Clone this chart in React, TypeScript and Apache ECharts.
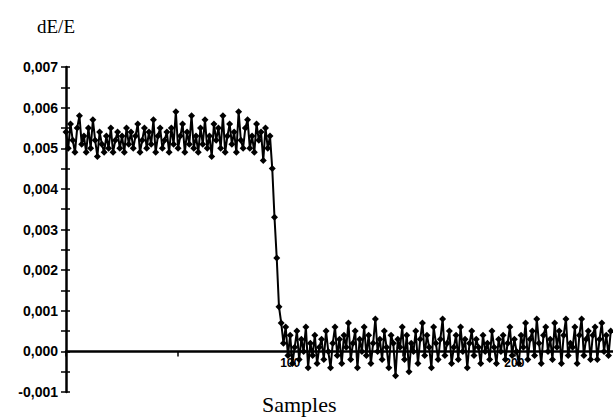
import React, { useEffect, useRef } from "react";
import * as echarts from "echarts";

const yLabelTicks = [-0.001, 0, 0.001, 0.002, 0.003, 0.004, 0.005, 0.006, 0.007];
const xLabelTicks = [100, 200];

// dE/E per sample (index = sample number)
const dEoverE = [
  0.0054, 0.0050, 0.0056, 0.0052, 0.0049, 0.0055, 0.0058, 0.0051, 0.0053, 0.0049,
  0.0055, 0.0050, 0.0057, 0.0052, 0.0048, 0.0054, 0.0051, 0.0049, 0.0053, 0.0050,
  0.0055, 0.0049, 0.0052, 0.0054, 0.0050, 0.0053, 0.0049, 0.0055, 0.0051, 0.0054,
  0.0050, 0.0053, 0.0056, 0.0049, 0.0052, 0.0055, 0.0050, 0.0054, 0.0051, 0.0057,
  0.0049, 0.0053, 0.0055, 0.0050, 0.0052, 0.0054, 0.0049, 0.0055, 0.0051, 0.0059,
  0.0050, 0.0053, 0.0056, 0.0049, 0.0054, 0.0051, 0.0058, 0.0050, 0.0053, 0.0049,
  0.0055, 0.0051, 0.0057, 0.0050, 0.0053, 0.0048, 0.0056, 0.0052, 0.0055, 0.0050,
  0.0058, 0.0049, 0.0053, 0.0056, 0.0051, 0.0054, 0.0049, 0.0059, 0.0052, 0.0050,
  0.0055, 0.0057, 0.0050, 0.0053, 0.0049, 0.0056, 0.0052, 0.0054, 0.0047, 0.0055,
  0.0050, 0.0053,
  0.0045, 0.0033, 0.0023, 0.0011,
  0.0007, 0.0002, 0.0006, -0.0001, 0.0004, -0.0003, 0.0001, 0.0005, -0.0002, 0.0003,
  0.0000, 0.0006, -0.0004, 0.0002, -0.0001, 0.0004, -0.0003, 0.0001, 0.0003, -0.0002,
  0.0005, 0.0000, -0.0004, 0.0002, 0.0006, -0.0001, 0.0003, -0.0003, 0.0004, 0.0001,
  0.0007, -0.0002, 0.0002, 0.0005, -0.0004, 0.0003, 0.0000, 0.0006, -0.0001, 0.0004,
  -0.0003, 0.0002, 0.0008, 0.0000, 0.0003, -0.0002, 0.0005, 0.0001, -0.0004, 0.0004,
  0.0002, -0.0006, 0.0003, 0.0001, 0.0006, -0.0002, 0.0004, -0.0005, 0.0002, 0.0000,
  0.0005, -0.0003, 0.0003, 0.0007, -0.0001, 0.0004, 0.0001, -0.0004, 0.0006, 0.0002,
  -0.0002, 0.0003, 0.0008, -0.0001, 0.0002, 0.0005, -0.0003, 0.0001, 0.0004, -0.0002,
  0.0006, 0.0000, 0.0003, -0.0004, 0.0002, 0.0005, -0.0001, 0.0003, 0.0001, -0.0003,
  0.0004, 0.0000, 0.0002, -0.0002, 0.0005, 0.0001, -0.0003, 0.0003, 0.0000, 0.0004,
  -0.0002, 0.0002, 0.0006, -0.0001, 0.0003, 0.0000, -0.0003, 0.0004, 0.0001, 0.0007,
  -0.0002, 0.0003, 0.0005, -0.0001, 0.0008, 0.0002, -0.0003, 0.0004, 0.0006, 0.0000,
  0.0003, -0.0002, 0.0007, 0.0001, 0.0005, -0.0003, 0.0004, 0.0008, -0.0001, 0.0002,
  0.0001, 0.0006, -0.0003, 0.0004, 0.0008, -0.0001, 0.0003, 0.0005, -0.0002, 0.0004,
  0.0006, -0.0002, 0.0003, 0.0007, 0.0000, 0.0004, -0.0001, 0.0005,
];

const GRID_TOP = 67;
const GRID_BOTTOM = 26;
const CHART_H = 418;

export default function App() {
  const ref = useRef<HTMLDivElement>(null);
  useEffect(() => {
    if (!ref.current) return;
    const chart = echarts.init(ref.current, null, { renderer: "svg" });
    const fmtY = (v: number) => {
      const near = yLabelTicks.find((t) => Math.abs(t - v) < 1e-9);
      if (near === undefined) return "";
      return near.toFixed(3).replace(".", ",");
    };
    const axisFont = {
      color: "#000",
      fontFamily: "Liberation Sans, Arial, sans-serif",
      fontWeight: "bold" as const,
      fontSize: 14,
    };
    // shift the x axis up so that it lies on y = 0 (one unit of 0.001 above the bottom)
    const gridH = CHART_H - GRID_TOP - GRID_BOTTOM;
    const zeroOffset = -gridH / 8;
    chart.setOption({
      animation: false,
      backgroundColor: "#fff",
      grid: { left: 66, right: 0, top: GRID_TOP, bottom: GRID_BOTTOM, containLabel: false },
      xAxis: {
        type: "value",
        min: 0,
        max: 244,
        interval: 50,
        offset: zeroOffset,
        axisLine: { onZero: false, lineStyle: { color: "#000", width: 2.5 } },
        axisTick: { show: true, length: 5, inside: false, lineStyle: { color: "#000", width: 1.5 } },
        splitLine: { show: false },
        axisLabel: {
          ...axisFont,
          fontSize: 12,
          margin: 6,
          showMaxLabel: false,
          formatter: (v: number) => (xLabelTicks.includes(v) ? String(v) : ""),
        },
      },
      yAxis: [
        {
          type: "value",
          min: -0.001,
          max: 0.007,
          interval: 0.001,
          axisLine: { show: true, lineStyle: { color: "#000", width: 2.5 } },
          axisTick: { show: true, length: 5, lineStyle: { color: "#000", width: 1.5 } },
          minorTick: { show: true, splitNumber: 2, length: 5, lineStyle: { color: "#000", width: 1.5 } },
          splitLine: { show: false },
          axisLabel: { ...axisFont, margin: 8, formatter: fmtY },
        },
        {
          type: "value",
          position: "left",
          offset: 0,
          min: -0.001,
          max: 0.007,
          interval: 0.001,
          axisLine: { show: false },
          axisTick: { show: true, inside: true, length: 4, lineStyle: { color: "#000", width: 1.5 } },
          minorTick: { show: true, splitNumber: 2, length: 4, lineStyle: { color: "#000", width: 1.5 } },
          splitLine: { show: false },
          axisLabel: { show: false },
        },
      ],
      series: [
        {
          type: "line",
          yAxisIndex: 0,
          data: dEoverE.map((v, i) => [i, v]),
          symbol: "diamond",
          symbolSize: 7,
          showSymbol: true,
          itemStyle: { color: "#000" },
          lineStyle: { color: "#000", width: 2 },
          z: 3,
        },
      ],
      graphic: [
        {
          type: "text",
          left: 37,
          top: 17,
          style: {
            text: "dE/E",
            fill: "#000",
            font: "19px 'Liberation Serif', 'DejaVu Serif', serif",
          },
        },
        {
          type: "text",
          left: 262,
          top: 393,
          style: {
            text: "Samples",
            fill: "#000",
            font: "22px 'Liberation Serif', 'DejaVu Serif', serif",
          },
        },
      ],
    });
    return () => chart.dispose();
  }, []);
  return (
    <div
      ref={ref}
      style={{ position: "fixed", left: 0, top: 0, width: 613, height: 418 }}
    />
  );
}
